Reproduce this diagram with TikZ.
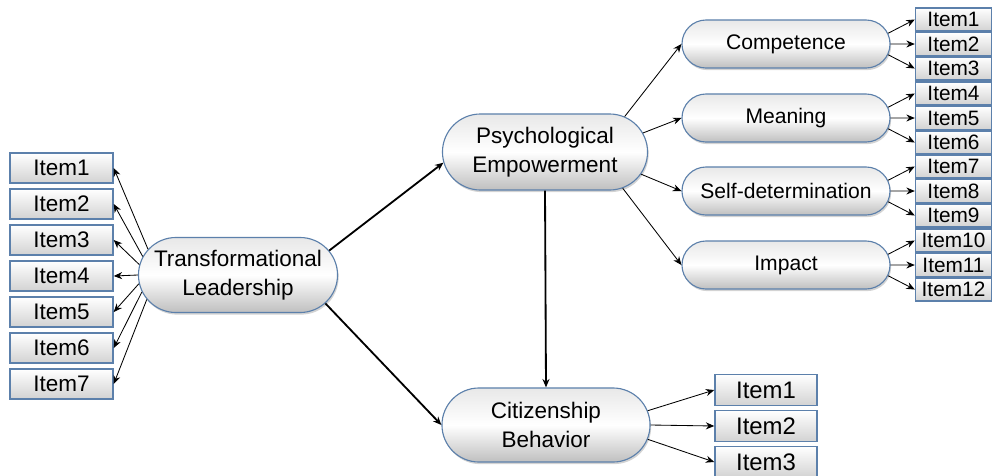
\documentclass[tikz,border=0pt]{standalone}
\usepackage{fontspec}
\setmainfont{Liberation Sans}
\usetikzlibrary{shapes.misc,shadows,arrows.meta}

\definecolor{borde}{HTML}{5C80AB}
\tikzset{
  constructo/.style={rounded rectangle, draw=borde, line width=0.8pt,
    top color=gray!18, bottom color=gray!50, middle color=white,
    drop shadow={shadow xshift=0.8pt, shadow yshift=-1.5pt, opacity=0.35},
    align=center, inner sep=0pt},
  itembox/.style={rectangle, draw=borde, line width=1pt,
    top color=white, bottom color=gray!35, inner sep=0pt,
    drop shadow={shadow xshift=0.6pt, shadow yshift=-0.6pt, opacity=0.5}},
  flecha/.style={->, line width=0.6pt},
  flechag/.style={->, line width=1.3pt}
}

\begin{document}
\begin{tikzpicture}[x=0.025cm,y=-0.025cm,>={Stealth[length=6pt,width=5pt]}]
    \useasboundingbox (0,0) rectangle (992,475);

    % Constructos principales
    \node[constructo, minimum width=4.975cm, minimum height=1.875cm,
          font=\fontsize{16}{21}\selectfont] (tl) at (238,275) {Transformational\\Leadership};
    \node[constructo, minimum width=5.125cm, minimum height=1.9cm,
          font=\fontsize{16}{21}\selectfont] (pe) at (545,152) {Psychological\\Empowerment};
    \node[constructo, minimum width=5.2cm, minimum height=1.85cm,
          font=\fontsize{16}{21}\selectfont] (cb) at (546,425) {Citizenship\\Behavior};

    % Relaciones estructurales
    \draw[flechag] (tl.15) -- (pe.186);
    \draw[flechag] (tl.-18) -- (cb.west);
    \draw[flechag] (pe.south) -- (cb.north);

    % Items de liderazgo
    \foreach \i in {1,...,7}{
        \node[itembox, minimum width=2.575cm, minimum height=0.75cm,
              font=\fontsize{16}{18}\selectfont] (tl\i) at (61.5,132+36*\i) {Item\i};
        \pgfmathsetmacro\ang{180+5.2*(\i-4)}
        \draw[flecha] (tl.\ang) -- (tl\i.east);
    }

    % Dimensiones del empoderamiento y sus items
    \foreach \n/\t/\y/\a [count=\k] in {comp/Competence/44/24, mean/Meaning/118/11,
                                        self/Self-determination/191/-13, imp/Impact/265/-25}{
        \node[constructo, minimum width=5.2cm, minimum height=1.2cm,
              font=\fontsize{15}{17}\selectfont] (\n) at (786,\y) {\t};
        \draw[flecha] (pe.\a) -- (\n.west);
        \foreach \j in {1,2,3}{
            \pgfmathtruncatemacro\m{3*(\k-1)+\j}
            \pgfmathsetmacro\ang{6*(2-\j)}
            \node[itembox, minimum width=1.9cm, minimum height=0.575cm,
                  font=\fontsize{14.8}{17}\selectfont] (pe\m) at (953.5,\y+24.5*\j-49) {Item\m};
            \draw[flecha] (\n.\ang) -- (pe\m.west);
        }
    }

    % Items de ciudadania
    \foreach \i in {1,2,3}{
        \node[itembox, minimum width=2.55cm, minimum height=0.775cm,
              font=\fontsize{17}{19}\selectfont] (cb\i) at (766,354+36*\i) {Item\i};
        \pgfmathsetmacro\ang{8*(2-\i)}
        \draw[flecha] (cb.\ang) -- (cb\i.west);
    }
\end{tikzpicture}
\end{document}
